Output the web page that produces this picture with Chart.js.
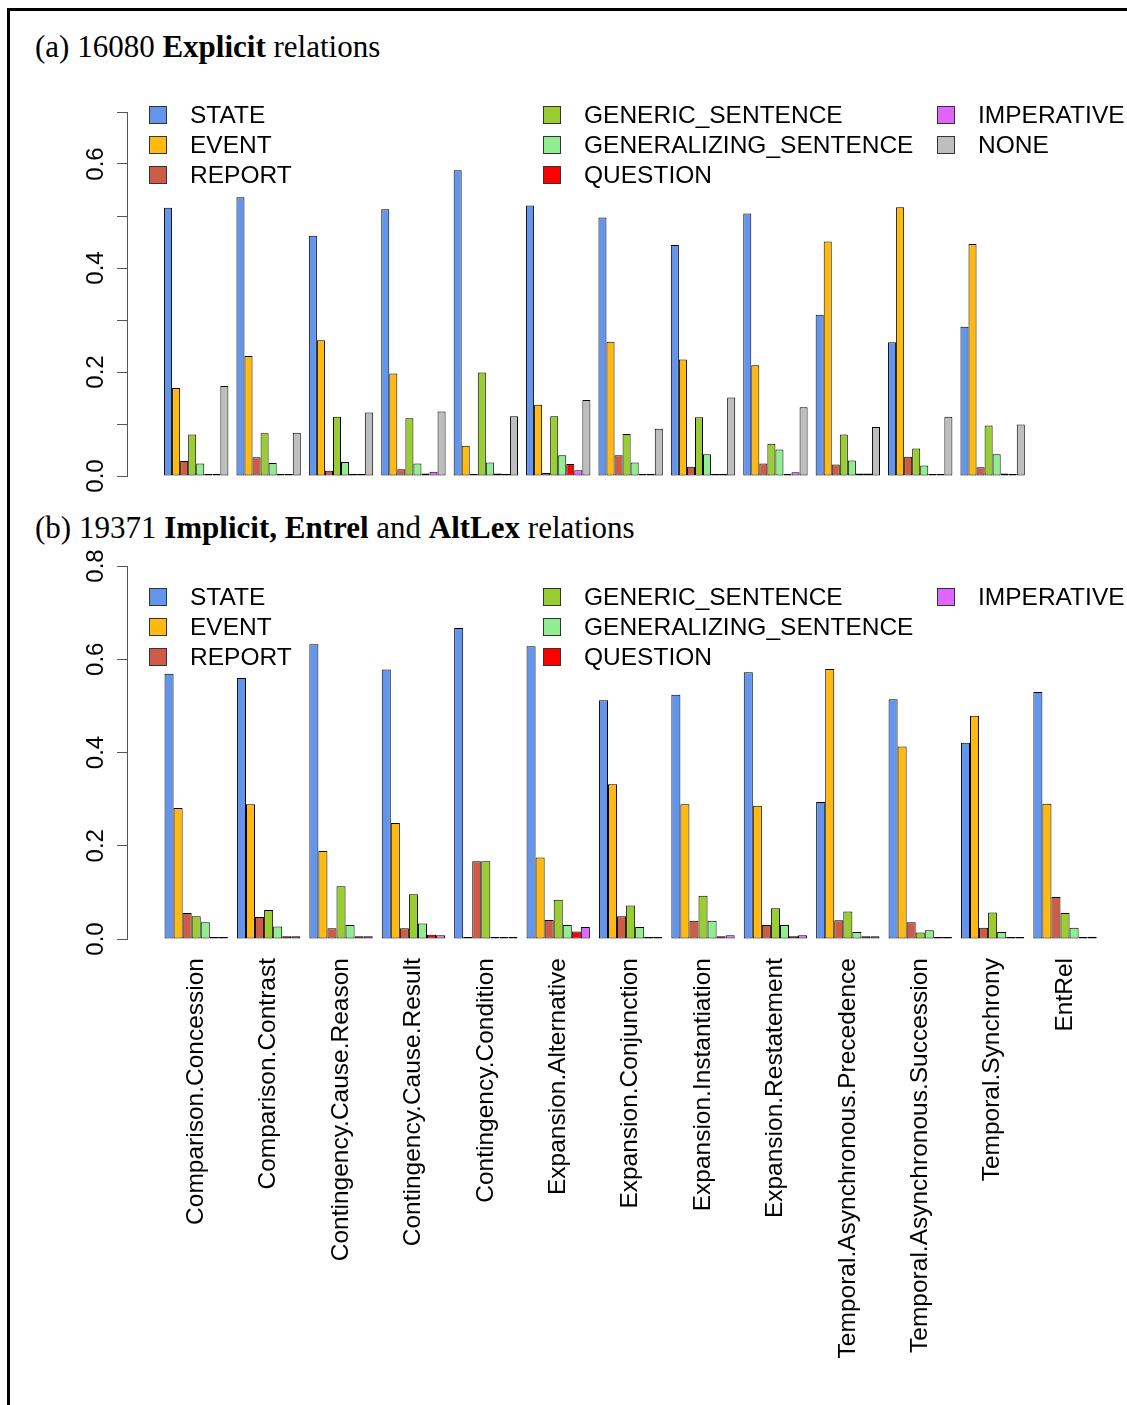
<!DOCTYPE html>
<html>
<head>
<meta charset="utf-8">
<script src="https://cdn.jsdelivr.net/npm/chart.js@4.4.1/dist/chart.umd.min.js"></script>
<style>
  body { margin: 0; background: #fff; width: 1127px; height: 1405px; overflow: hidden; position: relative; font-family: "Liberation Sans", Arial, sans-serif; }
  #frame { position: absolute; left: 7px; top: 8px; width: 1300px; height: 1500px; border: 3px solid #000; }
  .title { position: absolute; left: 35px; font-family: "Liberation Serif", serif; font-size: 31px; line-height: 36px; white-space: nowrap; }
  .legend { position: absolute; left: 149px; display: grid; grid-template-rows: repeat(3, 30px); grid-auto-flow: column; grid-template-columns: 394px 394px 200px; font-size: 24.5px; }
  .legend div { display: flex; align-items: center; white-space: nowrap; }
  .legend .box { display: inline-block; width: 18px; height: 18px; box-sizing: border-box; border: 1px solid #333; margin-right: 23px; }
  canvas { position: absolute; left: 0; }
</style>
</head>
<body>
<div id="frame"></div>
<div class="title" style="top:29px">(a) 16080 <b>Explicit</b> relations</div>
<div class="title" style="top:510px">(b) 19371 <b>Implicit, Entrel</b> and <b>AltLex</b> relations</div>
<canvas id="chartA" width="1127" height="520" style="top:0"></canvas>
<canvas id="chartB" width="1127" height="885" style="top:520px"></canvas>
<div class="legend" id="legendA" style="top:100px"></div>
<div class="legend" id="legendB" style="top:582px"></div>
<script>
// relation senses (x categories)
const relationsA = ['Comparison.Concession', 'Comparison.Contrast', 'Contingency.Cause.Reason', 'Contingency.Cause.Result',
  'Contingency.Condition', 'Expansion.Alternative', 'Expansion.Conjunction', 'Expansion.Instantiation',
  'Expansion.Restatement', 'Temporal.Asynchronous.Precedence', 'Temporal.Asynchronous.Succession', 'Temporal.Synchrony'];
const relationsB = relationsA.concat(['EntRel']);

const yTicksA = ['0.0', '', '0.2', '', '0.4', '', '0.6', ''];
const yTicksB = ['0.0', '0.2', '0.4', '0.6', '0.8'];

// (a) explicit relations
const stateA        = [0.516, 0.536, 0.462, 0.513, 0.588, 0.520, 0.497, 0.444, 0.505, 0.310, 0.257, 0.287];
const eventA        = [0.169, 0.231, 0.261, 0.197, 0.058, 0.137, 0.258, 0.224, 0.213, 0.451, 0.517, 0.446];
const reportA       = [0.029, 0.036, 0.010, 0.013, 0.003, 0.006, 0.040, 0.018, 0.024, 0.022, 0.037, 0.017];
const genericA      = [0.080, 0.082, 0.114, 0.111, 0.199, 0.115, 0.081, 0.113, 0.062, 0.080, 0.053, 0.097];
const generalizingA = [0.024, 0.025, 0.027, 0.024, 0.026, 0.040, 0.026, 0.042, 0.051, 0.030, 0.020, 0.042];
const questionA     = [0.003, 0.004, 0.001, 0.005, 0.005, 0.023, 0.001, 0.001, 0.003, 0.005, 0.0005, 0.005];
const imperativeA   = [0.002, 0.001, 0.001, 0.008, 0.004, 0.011, 0.002, 0.004, 0.007, 0.005, 0.001, 0.004];
const noneA         = [0.173, 0.083, 0.122, 0.124, 0.115, 0.146, 0.091, 0.151, 0.132, 0.094, 0.114, 0.099];

// (b) implicit, entrel and altlex relations
const stateB        = [0.569, 0.560, 0.632, 0.578, 0.667, 0.628, 0.512, 0.524, 0.572, 0.294, 0.514, 0.421, 0.530];
const eventB        = [0.281, 0.289, 0.189, 0.249, 0.000, 0.175, 0.332, 0.289, 0.286, 0.579, 0.413, 0.479, 0.290];
const reportB       = [0.056, 0.047, 0.023, 0.023, 0.167, 0.041, 0.049, 0.039, 0.030, 0.040, 0.036, 0.024, 0.090];
const genericB      = [0.049, 0.062, 0.113, 0.096, 0.167, 0.084, 0.072, 0.093, 0.066, 0.059, 0.014, 0.057, 0.056];
const generalizingB = [0.036, 0.027, 0.030, 0.033, 0.000, 0.030, 0.026, 0.039, 0.030, 0.015, 0.019, 0.015, 0.024];
const questionB     = [0.004, 0.006, 0.006, 0.009, 0.000, 0.016, 0.004, 0.006, 0.006, 0.006, 0.003, 0.002, 0.004];
const imperativeB   = [0.004, 0.006, 0.006, 0.008, 0.000, 0.026, 0.004, 0.008, 0.008, 0.006, 0.000, 0.001, 0.005];

const colors = {
  STATE: '#6495ED', EVENT: '#FFB90F', REPORT: '#CD5B45', GENERIC_SENTENCE: '#9ACD32',
  GENERALIZING_SENTENCE: '#90EE90', QUESTION: '#FF0000', IMPERATIVE: '#E066FF', NONE: '#BEBEBE'
};

const xMin = -0.956;
const xMax = 12.483;

Chart.defaults.font.family = '"Liberation Sans", Arial, sans-serif';
Chart.defaults.color = '#000';

function dataset(label, values) {
  return {
    label: label,
    data: values.map((v, i) => ({ x: i, y: v })),
    backgroundColor: colors[label],
    borderColor: '#000',
    borderWidth: 1,
    borderSkipped: false,
    minBarLength: 2
  };
}

function makeChart(canvasId, datasets, relations, yMax, yStep, yTicks, showX, padding) {
  const xScale = {
    type: 'linear',
    min: xMin,
    max: xMax,
    offset: false,
    display: showX,
    afterBuildTicks: s => { s.ticks = relations.map((_, i) => ({ value: i })); },
    grid: { display: false, drawTicks: false, offset: false },
    border: { display: false },
    ticks: {
      autoSkip: false, minRotation: 90, maxRotation: 90, padding: 19,
      font: { size: 24.5 }, color: '#000',
      callback: v => relations[v]
    }
  };
  if (showX) xScale.afterFit = s => { s.height = 466; };

  return new Chart(document.getElementById(canvasId), {
    type: 'bar',
    data: { datasets: datasets },
    options: {
      responsive: false,
      animation: false,
      layout: { padding: padding },
      categoryPercentage: datasets.length / (datasets.length + 1),
      barPercentage: 1,
      plugins: { legend: { display: false }, tooltip: { enabled: false } },
      scales: {
        x: xScale,
        y: {
          min: 0,
          max: yMax,
          ticks: {
            stepSize: yStep, minRotation: 90, maxRotation: 90, crossAlign: 'center', padding: 4,
            font: { size: 24 }, color: '#000',
            callback: (v, i) => yTicks[i]
          },
          grid: { drawOnChartArea: false, drawTicks: true, tickLength: 10, color: '#555', lineWidth: 1 },
          border: { display: true, color: '#555', width: 1 },
          afterFit: s => { s.width = 127; }
        }
      }
    }
  });
}

function buildLegend(chart, el) {
  chart.data.datasets.forEach(ds => {
    const item = document.createElement('div');
    item.innerHTML = `<span class="box" style="background:${ds.backgroundColor}"></span>${ds.label}`;
    el.appendChild(item);
  });
}

const chartA = makeChart('chartA', [
  dataset('STATE', stateA), dataset('EVENT', eventA), dataset('REPORT', reportA),
  dataset('GENERIC_SENTENCE', genericA), dataset('GENERALIZING_SENTENCE', generalizingA),
  dataset('QUESTION', questionA), dataset('IMPERATIVE', imperativeA), dataset('NONE', noneA)
], relationsA, 0.7, 0.1, yTicksA, false, { top: 112, bottom: 44, left: 0, right: 27 });

const chartB = makeChart('chartB', [
  dataset('STATE', stateB), dataset('EVENT', eventB), dataset('REPORT', reportB),
  dataset('GENERIC_SENTENCE', genericB), dataset('GENERALIZING_SENTENCE', generalizingB),
  dataset('QUESTION', questionB), dataset('IMPERATIVE', imperativeB)
], relationsB, 0.8, 0.2, yTicksB, true, { top: 46, bottom: 0, left: 0, right: 27 });

buildLegend(chartA, document.getElementById('legendA'));
buildLegend(chartB, document.getElementById('legendB'));
</script>
</body>
</html>
